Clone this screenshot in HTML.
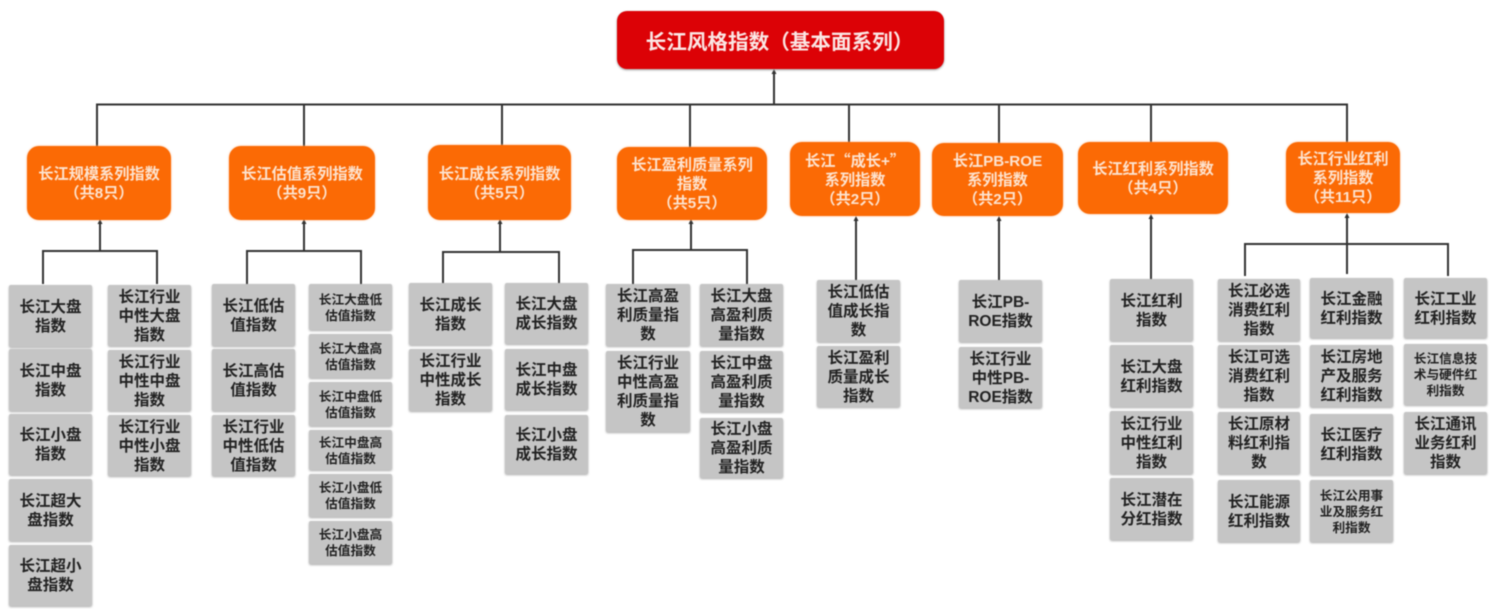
<!DOCTYPE html>
<html><head><meta charset="utf-8"><style>
html,body{margin:0;padding:0;background:#fff}
#c{position:relative;width:1494px;height:609px;overflow:hidden;background:#fff;font-family:"Liberation Sans","Noto Sans CJK SC",sans-serif;font-weight:bold;filter:blur(.4px)}
#c svg{position:absolute;left:0;top:0}
.b{position:absolute;display:flex;align-items:center;justify-content:center;text-align:center;box-sizing:border-box}
.g{background:#c5c5c5;color:#222;font-size:15.500px;line-height:19px;border-radius:2px;box-shadow:0 1px 2px #aaa;padding-top:1px}
.s{font-size:12.700px;line-height:16px}
.o{background:#fb6a05;color:#fde3cf;font-size:15.200px;line-height:19px;border-radius:12px;box-shadow:0 0 2px #fbb98a;padding-top:2px}
.r{background:#dc0206;color:#fbe6e4;font-size:20.600px;border-radius:10px;box-shadow:0 1px 2px #999;padding-right:2px}
.q{font-family:"Noto Sans CJK SC",sans-serif}
</style></head><body><div id="c">
<svg width="1494" height="609" fill="none" stroke="#333" stroke-width="2">
<path d="M97 146V104.500H1347V142M304 104V146M502 104V145M690 104V147M849 104V142M999 104V143M1151 104V142M774 104V72"/>
<path d="M43 284V251H157V284M100 251V222"/>
<path d="M247 284V251H361V284M304 251V222"/>
<path d="M443 283V252H559V283M500 252V222"/>
<path d="M633 284V250H747V284M691 250V222"/>
<path d="M856 280V219M999 280V219M1151 279V217"/>
<path d="M1245 276V244H1448V276M1347 244V216M1347 244V274" />
<path fill="#333" stroke="none" d="M774 69l-2.500 5h5zM100 219l-2.500 5h5zM304 219l-2.500 5h5zM500 219l-2.500 5h5zM691 219l-2.500 5h5zM856 216l-2.500 5h5zM999 216l-2.500 5h5zM1151 214l-2.500 5h5zM1347 213l-2.500 5h5z"/>
</svg>

<div class="b r" style="left:617px;top:11px;width:327px;height:58px">长江风格指数（基本面系列）</div>

<div class="b o" style="left:27px;top:146px;width:144px;height:74px">长江规模系列指数<br>（共8只）</div>
<div class="b o" style="left:229px;top:146px;width:146px;height:74px">长江估值系列指数<br>（共9只）</div>
<div class="b o" style="left:428px;top:145px;width:143px;height:75px">长江成长系列指数<br>（共5只）</div>
<div class="b o" style="left:617px;top:147px;width:150px;height:73px">长江盈利质量系列<br>指数<br>（共5只）</div>
<div class="b o" style="left:790px;top:142px;width:130px;height:74px"><span>长江<span class="q">“</span>成长+<span class="q">”</span><br>系列指数<br>（共2只）</span></div>
<div class="b o" style="left:932px;top:143px;width:131px;height:73px">长江PB-ROE<br>系列指数<br>（共2只）</div>
<div class="b o" style="left:1078px;top:142px;width:150px;height:72px">长江红利系列指数<br>（共4只）</div>
<div class="b o" style="left:1286px;top:142px;width:114px;height:71px">长江行业红利<br>系列指数<br>（共11只）</div>

<div class="b g" style="left:9px;top:285px;width:83px;height:62px">长江大盘<br>指数</div>
<div class="b g" style="left:9px;top:349px;width:83px;height:62px">长江中盘<br>指数</div>
<div class="b g" style="left:9px;top:414px;width:83px;height:61px">长江小盘<br>指数</div>
<div class="b g" style="left:9px;top:479px;width:83px;height:62px">长江超大<br>盘指数</div>
<div class="b g" style="left:9px;top:545px;width:83px;height:61px">长江超小<br>盘指数</div>
<div class="b g" style="left:108px;top:285px;width:83px;height:61px">长江行业<br>中性大盘<br>指数</div>
<div class="b g" style="left:108px;top:350px;width:83px;height:61px">长江行业<br>中性中盘<br>指数</div>
<div class="b g" style="left:108px;top:415px;width:83px;height:61px">长江行业<br>中性小盘<br>指数</div>

<div class="b g" style="left:212px;top:284px;width:83px;height:62px">长江低估<br>值指数</div>
<div class="b g" style="left:212px;top:349px;width:83px;height:62px">长江高估<br>值指数</div>
<div class="b g" style="left:212px;top:415px;width:83px;height:61px">长江行业<br>中性低估<br>值指数</div>
<div class="b g s" style="left:309px;top:284px;width:83px;height:46px">长江大盘低<br>估值指数</div>
<div class="b g s" style="left:309px;top:334px;width:83px;height:44px">长江大盘高<br>估值指数</div>
<div class="b g s" style="left:309px;top:382px;width:83px;height:44px">长江中盘低<br>估值指数</div>
<div class="b g s" style="left:309px;top:430px;width:83px;height:40px">长江中盘高<br>估值指数</div>
<div class="b g s" style="left:309px;top:474px;width:83px;height:43px">长江小盘低<br>估值指数</div>
<div class="b g s" style="left:309px;top:521px;width:83px;height:43px">长江小盘高<br>估值指数</div>

<div class="b g" style="left:409px;top:283px;width:83px;height:62px">长江成长<br>指数</div>
<div class="b g" style="left:409px;top:349px;width:83px;height:62px">长江行业<br>中性成长<br>指数</div>
<div class="b g" style="left:505px;top:283px;width:83px;height:61px">长江大盘<br>成长指数</div>
<div class="b g" style="left:505px;top:349px;width:83px;height:61px">长江中盘<br>成长指数</div>
<div class="b g" style="left:505px;top:415px;width:83px;height:59px">长江小盘<br>成长指数</div>

<div class="b g" style="left:606px;top:284px;width:84px;height:62px">长江高盈<br>利质量指<br>数</div>
<div class="b g" style="left:606px;top:351px;width:84px;height:81px">长江行业<br>中性高盈<br>利质量指<br>数</div>
<div class="b g" style="left:700px;top:284px;width:83px;height:62px">长江大盘<br>高盈利质<br>量指数</div>
<div class="b g" style="left:700px;top:351px;width:83px;height:61px">长江中盘<br>高盈利质<br>量指数</div>
<div class="b g" style="left:700px;top:418px;width:83px;height:60px">长江小盘<br>高盈利质<br>量指数</div>

<div class="b g" style="left:817px;top:280px;width:83px;height:62px">长江低估<br>值成长指<br>数</div>
<div class="b g" style="left:817px;top:346px;width:83px;height:61px">长江盈利<br>质量成长<br>指数</div>

<div class="b g" style="left:959px;top:280px;width:83px;height:62px">长江PB-<br>ROE指数</div>
<div class="b g" style="left:959px;top:347px;width:83px;height:61px">长江行业<br>中性PB-<br>ROE指数</div>

<div class="b g" style="left:1110px;top:279px;width:83px;height:62px">长江红利<br>指数</div>
<div class="b g" style="left:1110px;top:345px;width:83px;height:62px">长江大盘<br>红利指数</div>
<div class="b g" style="left:1110px;top:411px;width:83px;height:63px">长江行业<br>中性红利<br>指数</div>
<div class="b g" style="left:1110px;top:478px;width:83px;height:62px">长江潜在<br>分红指数</div>

<div class="b g" style="left:1218px;top:279px;width:82px;height:62px">长江必选<br>消费红利<br>指数</div>
<div class="b g" style="left:1218px;top:345px;width:82px;height:62px">长江可选<br>消费红利<br>指数</div>
<div class="b g" style="left:1218px;top:412px;width:82px;height:62px">长江原材<br>料红利指<br>数</div>
<div class="b g" style="left:1218px;top:480px;width:82px;height:62px">长江能源<br>红利指数</div>
<div class="b g" style="left:1310px;top:278px;width:83px;height:60px">长江金融<br>红利指数</div>
<div class="b g" style="left:1310px;top:345px;width:83px;height:62px">长江房地<br>产及服务<br>红利指数</div>
<div class="b g" style="left:1310px;top:414px;width:83px;height:61px">长江医疗<br>红利指数</div>
<div class="b g s" style="left:1310px;top:480px;width:83px;height:62px">长江公用事<br>业及服务红<br>利指数</div>
<div class="b g" style="left:1404px;top:278px;width:83px;height:60px">长江工业<br>红利指数</div>
<div class="b g s" style="left:1404px;top:344px;width:83px;height:61px">长江信息技<br>术与硬件红<br>利指数</div>
<div class="b g" style="left:1404px;top:412px;width:83px;height:62px">长江通讯<br>业务红利<br>指数</div>
</div></body></html>
